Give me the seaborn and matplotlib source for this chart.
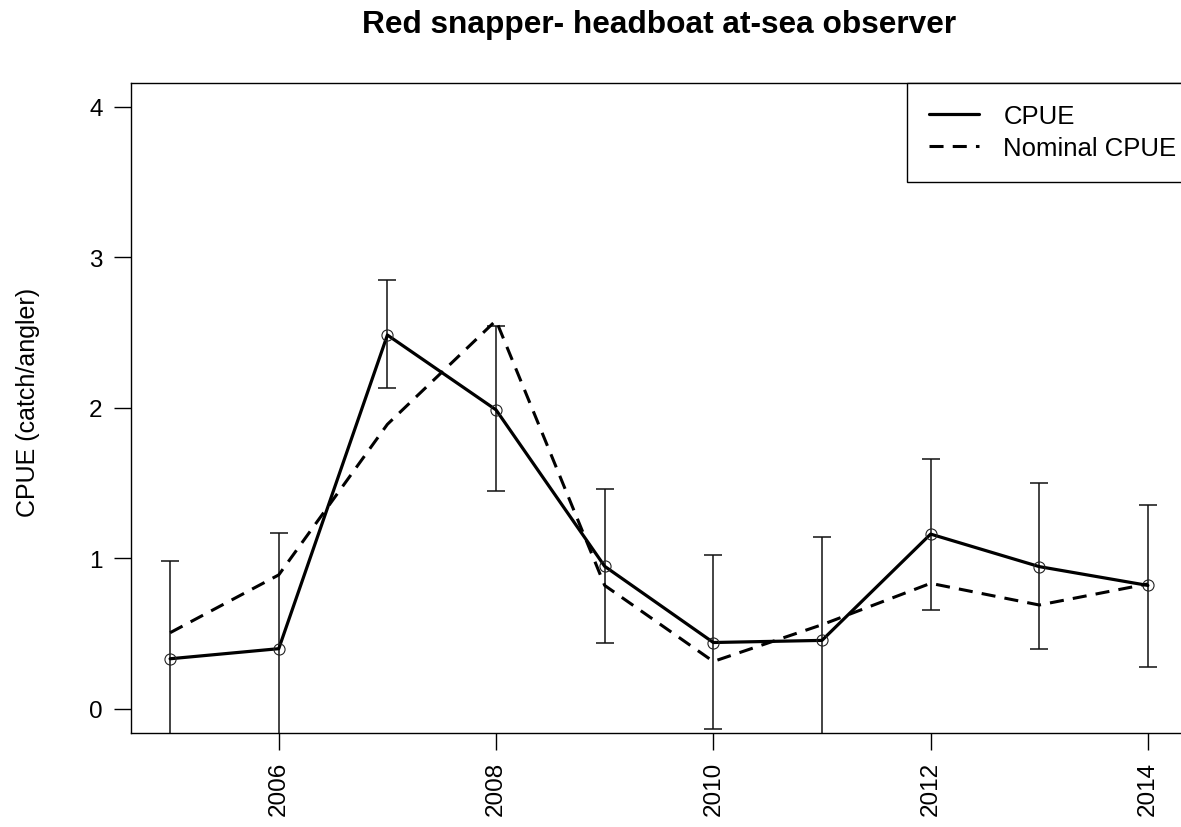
import matplotlib
matplotlib.use("Agg")
import matplotlib.pyplot as plt
from matplotlib.lines import Line2D
import seaborn as sns
import numpy as np
import pandas as pd

years = [2005, 2006, 2007, 2008, 2009, 2010, 2011, 2012, 2013, 2014]
cpue = [0.333, 0.40, 2.483, 1.986, 0.947, 0.441, 0.455, 1.161, 0.945, 0.82]
cpue_low = [-0.32, -0.37, 2.13, 1.447, 0.441, -0.135, -0.23, 0.66, 0.40, 0.28]
cpue_high = [0.98, 1.17, 2.85, 2.54, 1.458, 1.023, 1.143, 1.662, 1.50, 1.357]
nominal = [0.506, 0.89, 1.89, 2.58, 0.82, 0.315, 0.559, 0.834, 0.69, 0.83]

x_ticks = [2006, 2008, 2010, 2012, 2014]
y_ticks = [0, 1, 2, 3, 4]

df = pd.DataFrame({"year": years, "cpue": cpue, "nominal": nominal})

sns.set_style("white", {"text.color": "black", "axes.labelcolor": "black",
                        "xtick.color": "black", "ytick.color": "black",
                        "xtick.bottom": True, "ytick.left": True})
plt.rcParams['font.family'] = ['Liberation Sans', 'DejaVu Sans']

W, H = 1181, 828
fig = plt.figure(figsize=(W / 100, H / 100), dpi=100)
left, right, top, bottom = 131, 1187, 83.5, 734
ax = fig.add_axes([left / W, 1 - bottom / H, (right - left) / W, (bottom - top) / H])

# error bars
lo = np.array(cpue) - np.array(cpue_low)
hi = np.array(cpue_high) - np.array(cpue)
ax.errorbar(years, cpue, yerr=[lo, hi], fmt='none', ecolor='#111111',
            elinewidth=1.1, capsize=6.2, capthick=1.1, zorder=2)

sns.lineplot(data=df, x="year", y="cpue", ax=ax, color='black', lw=2.3,
             marker='o', markersize=8, markerfacecolor='none',
             markeredgecolor='#222222', markeredgewidth=0.8, zorder=3)
sns.lineplot(data=df, x="year", y="nominal", ax=ax, color='black', lw=2.2,
             linestyle=(0, (4.6, 3.0)), zorder=3)

ax.set_xlim(2004.64, 2014.36)
ax.set_ylim(-0.16, 4.16)
ax.set_xticks(x_ticks)
ax.set_yticks(y_ticks)
ax.set_xticklabels([str(t) for t in x_ticks], rotation=90, fontsize=17.5)
ax.set_yticklabels([str(t) for t in y_ticks], fontsize=17.5)
ax.tick_params(axis='both', direction='out', length=12, width=1.0, color='black',
               bottom=True, left=True, labelcolor='black')
ax.tick_params(axis='x', pad=8)
ax.tick_params(axis='y', pad=8.5)

for s in ax.spines.values():
    s.set_color('black')
    s.set_linewidth(1.0)

ax.set_xlabel("")
ax.set_ylabel("CPUE (catch/angler)", fontsize=18, color='black')
ax.yaxis.set_label_coords(-0.086, 0.51)

ax.set_title("Red snapper- headboat at-sea observer", fontsize=22.8,
             fontweight='bold', pad=36.5, color='black')

handles = [Line2D([], [], color='black', lw=2.3),
           Line2D([], [], color='black', lw=2.2, linestyle=(0, (4.6, 3.0)))]
leg = ax.legend(handles, ["CPUE", "Nominal CPUE"], loc='upper left',
                bbox_to_anchor=(907 / W, 1 - 83.5 / H), bbox_transform=fig.transFigure,
                fontsize=18.5, frameon=True, fancybox=False, framealpha=1,
                edgecolor='black', handlelength=1.95, handletextpad=0.95,
                borderpad=0.85, labelspacing=0.3, borderaxespad=0)
leg.get_frame().set_linewidth(1.0)
for t in leg.get_texts():
    t.set_color('black')

fig.savefig("out.png", dpi=100)
